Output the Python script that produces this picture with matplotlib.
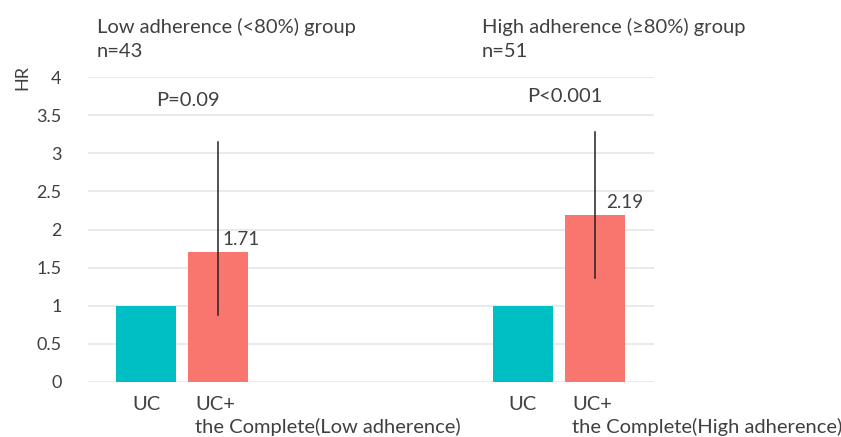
import numpy as np
import matplotlib
matplotlib.use("Agg")
import matplotlib.pyplot as plt

plt.rcParams['font.family'] = ['Lato', 'DejaVu Sans']

# data
groups = ['Low adherence (<80%) group', 'High adherence (\u226580%) group']
n_labels = ['n=43', 'n=51']
p_labels = ['P=0.09', 'P<0.001']
uc_hr = [1.0, 1.0]
comp_hr = [1.71, 2.19]
ci_low = [0.88, 1.37]
ci_high = [3.15, 3.28]
comp_names = ['UC+\nthe Complete(Low adherence)', 'UC+\nthe Complete(High adherence)']

teal = '#00BFC4'
salmon = '#F8766D'
txt = '#404040'
grid = '#E3E7EE'

fig = plt.figure(figsize=(8.41, 4.37), dpi=100)
ax = fig.add_axes([88/841, 1-382/437, (654-88)/841, (382-77)/437])

w = 60/72
base = [0.0, 377/72]
title_dx = [-0.68, -0.57]
val_dx = [0.06, 0.15]
p_y = [3.69, 3.74]
for i in range(2):
    x0 = base[i]
    x1 = base[i] + 1
    ax.bar(x0, uc_hr[i], width=w, color=teal, zorder=3)
    ax.bar(x1, comp_hr[i], width=w, color=salmon, zorder=3)
    ax.plot([x1, x1], [ci_low[i], ci_high[i]], color='#222222', lw=1.1, zorder=4)
    ax.text(x1 + val_dx[i], comp_hr[i] + 0.16, f'{comp_hr[i]:.2f}', fontsize=13.5, color=txt,
            ha='left', va='center', zorder=5)
    ax.text(x0 + 0.58, p_y[i], p_labels[i], fontsize=14.5, color=txt, ha='center', va='center')
    ax.text(x0 + title_dx[i], 4.66, groups[i], fontsize=14.5, color=txt, ha='left', va='center', clip_on=False)
    ax.text(x0 + title_dx[i], 4.34, n_labels[i], fontsize=14.5, color=txt, ha='left', va='center', clip_on=False)
    ax.text(x0, -0.19, 'UC', fontsize=14.5, color=txt, ha='center', va='top', clip_on=False)
    ax.text(x1 - w/2 + 0.1, -0.19, comp_names[i], fontsize=14.5, color=txt, ha='left', va='top',
            linespacing=1.3, clip_on=False)

ax.set_xlim(-58/72, 508/72)
ax.set_ylim(0, 4)
ax.set_yticks(np.arange(0, 4.01, 0.5))
ax.set_yticklabels(['0', '0.5', '1', '1.5', '2', '2.5', '3', '3.5', '4'])
ax.set_xticks([])
ax.tick_params(axis='y', length=0, labelsize=13, labelcolor=txt, pad=19)
ax.yaxis.grid(True, color=grid, lw=1.2, zorder=0)
for s in ax.spines.values():
    s.set_visible(False)

fig.text(22/841, 1-78/437, 'HR', rotation=90, fontsize=13, color=txt, ha='center', va='center')

fig.savefig('out.png', dpi=100)
